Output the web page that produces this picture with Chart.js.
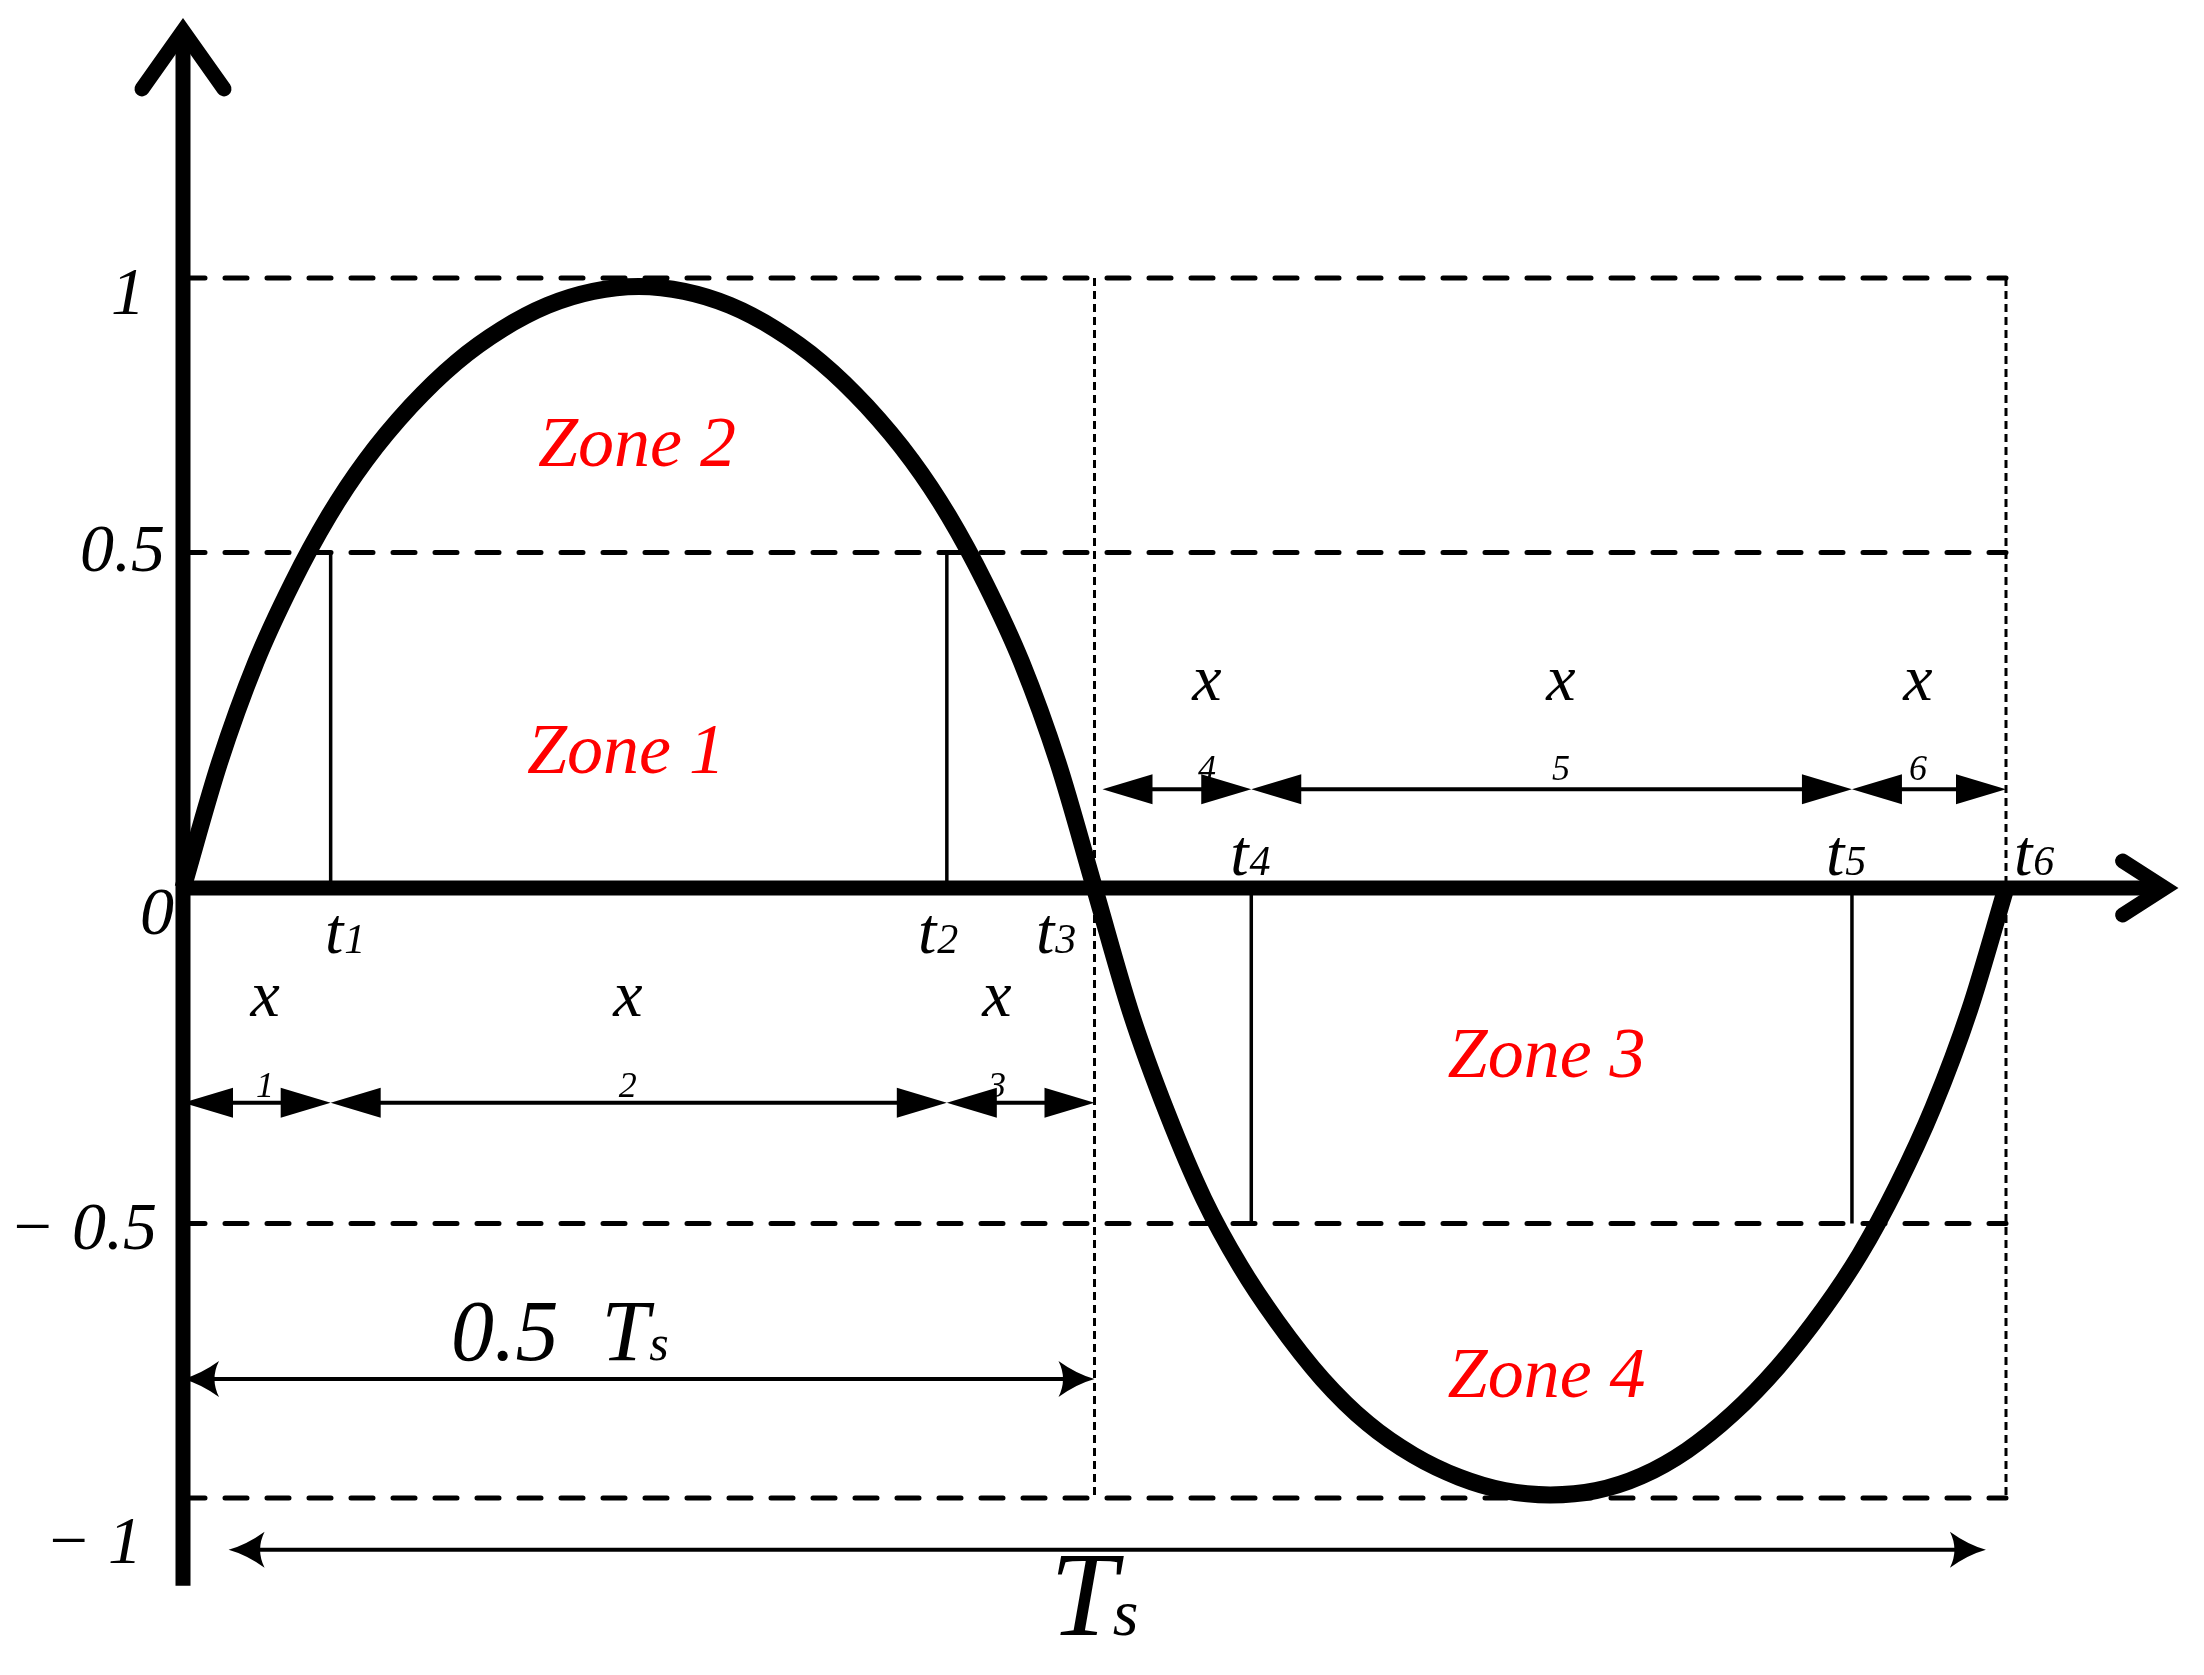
<!DOCTYPE html>
<html>
<head>
<meta charset="utf-8">
<script src="https://cdn.jsdelivr.net/npm/chart.js@4.4.1/dist/chart.umd.min.js"></script>
<style>
    html, body { margin: 0; padding: 0; background: #fff; }
    canvas { display: block; }
</style>
</head>
<body>
<canvas id="zonesChart" width="2204" height="1675"></canvas>
<script>
// x: time as a fraction of one period Ts, y: normalised amplitude
const curveT = [0, 0.02, 0.04, 0.06, 0.08, 0.10, 0.125, 0.15, 0.175, 0.20, 0.225, 0.25,
    0.275, 0.30, 0.325, 0.35, 0.375, 0.40, 0.42, 0.44, 0.46, 0.48, 0.5,
    0.52, 0.54, 0.56, 0.58, 0.60, 0.625, 0.65, 0.675, 0.70, 0.725, 0.75,
    0.775, 0.80, 0.825, 0.85, 0.875, 0.90, 0.92, 0.94, 0.96, 0.98, 1.0];
const curveV = [0, 0.205, 0.37, 0.50, 0.61, 0.70, 0.79, 0.862, 0.916, 0.955, 0.978, 0.986,
    0.978, 0.955, 0.916, 0.862, 0.79, 0.70, 0.61, 0.50, 0.37, 0.205, 0,
    -0.205, -0.37, -0.51, -0.62, -0.71, -0.805, -0.878, -0.930, -0.966, -0.988, -0.995,
    -0.988, -0.964, -0.922, -0.862, -0.785, -0.69, -0.60, -0.49, -0.36, -0.20, 0];

// switching instants t1..t6
const tMarks = [0.081, 0.419, 0.5, 0.586, 0.9155, 1];
const tNames = ['1', '2', '3', '4', '5', '6'];
const tLabelX = [0.0779, 0.4032, 0.4679, 0.5744, 0.9012, 1.0044];
const tLabelY = [-0.107, -0.107, -0.107, 0.021, 0.021, 0.021];

// dashed levels and the y tick labels
const levelValues = [1, 0.55, -0.55, -1];
const yTickValues = [1, 0.55, 0, -0.55, -1];
const yTickLabels = ['1', '0.5', '0', '\u2212 0.5', '\u2212 1'];

// zones
const zoneNames = ['Zone 1', 'Zone 2', 'Zone 3', 'Zone 4'];
const zoneX = [0.243, 0.249, 0.748, 0.748];
const zoneY = [0.188, 0.692, -0.310, -0.835];

// interval labels x1..x6
const xSubs = ['1', '2', '3', '4', '5', '6'];
const xLabelT = [0.045, 0.244, 0.4465, 0.5617, 0.7559, 0.9517];
const xRowLine = [-0.352, 0.162];
const xRowText = [-0.210, 0.308];
const xRowSub = [-0.343, 0.177];

// period arrows
const halfSpan = [0, 0.5];
const halfSpanY = -0.805;
const fullSpan = [0.025, 0.989];
const fullSpanY = -1.085;

// axis extent (data units)
const xAxisEnd = 1.087;
const yAxisTop = 1.405;
const yAxisBottom = -1.144;

const serif = '"Liberation Serif", "Times New Roman", serif';
// right edge offset from the axis and baseline offset from the level, px
const tickNudge = [[-38, 36], [-18, 18], [-9, 46], [-26, 25], [-41, 65]];

function lineSet(points, width, dash, cap) {
    return {
        data: points,
        showLine: true,
        borderColor: '#000',
        borderWidth: width,
        borderDash: dash || [],
        borderCapStyle: cap || 'butt',
        pointRadius: 0,
        clip: false,
        fill: false
    };
}

const datasets = [];
datasets.push({
    ...lineSet(curveT.map((t, i) => ({ x: t, y: curveV[i] })), 17),
    cubicInterpolationMode: 'monotone',
    borderJoinStyle: 'round'
});
levelValues.forEach(v => {
    datasets.push(lineSet([{ x: 0, y: v }, { x: 1, y: v }], 5, [22, 20], 'round'));
});
// thin drop lines at t1, t2 (upper) and t4, t5 (lower)
[[tMarks[0], 0.55], [tMarks[1], 0.55], [tMarks[3], -0.55], [tMarks[4], -0.55]].forEach(([t, v]) => {
    datasets.push(lineSet([{ x: t, y: 0 }, { x: t, y: v }], 3.5));
});
// dotted verticals at 0.5 Ts and Ts
[tMarks[2], tMarks[5]].forEach(t => {
    datasets.push(lineSet([{ x: t, y: 1 }, { x: t, y: -1 }], 3, [8, 5]));
});

function filledHead(ctx, x, y, dir) {
    ctx.beginPath();
    ctx.moveTo(x, y);
    ctx.lineTo(x - dir * 50, y - 15);
    ctx.lineTo(x - dir * 50, y + 15);
    ctx.closePath();
    ctx.fill();
}

function openHead(ctx, x, y, dir) {
    ctx.beginPath();
    ctx.moveTo(x, y);
    ctx.quadraticCurveTo(x - dir * 18, y - 5, x - dir * 36, y - 18);
    ctx.quadraticCurveTo(x - dir * 27, y, x - dir * 36, y + 18);
    ctx.quadraticCurveTo(x - dir * 18, y + 5, x, y);
    ctx.fill();
}

function shaft(ctx, x0, x1, y, w) {
    ctx.lineWidth = w;
    ctx.lineCap = 'butt';
    ctx.beginPath();
    ctx.moveTo(x0, y);
    ctx.lineTo(x1, y);
    ctx.stroke();
}

const diagramPlugin = {
    id: 'diagram',
    beforeDatasetsDraw(chart) {
        const ctx = chart.ctx;
        const px = v => chart.scales.x.getPixelForValue(v);
        const py = v => chart.scales.y.getPixelForValue(v);
        const x0 = px(0), y0 = py(0);
        ctx.save();
        ctx.strokeStyle = '#000';
        ctx.lineWidth = 15;
        ctx.lineCap = 'butt';
        // y axis
        const top = py(yAxisTop);
        ctx.beginPath();
        ctx.moveTo(x0, py(yAxisBottom));
        ctx.lineTo(x0, top);
        ctx.stroke();
        ctx.lineCap = 'round';
        ctx.lineJoin = 'miter';
        ctx.beginPath();
        ctx.moveTo(x0 - 41, top + 58);
        ctx.lineTo(x0, top);
        ctx.lineTo(x0 + 41, top + 58);
        ctx.stroke();
        // x axis
        const right = px(xAxisEnd);
        ctx.lineCap = 'butt';
        ctx.beginPath();
        ctx.moveTo(x0, y0);
        ctx.lineTo(right, y0);
        ctx.stroke();
        ctx.lineCap = 'round';
        ctx.beginPath();
        ctx.moveTo(right - 42, y0 - 27);
        ctx.lineTo(right, y0);
        ctx.lineTo(right - 42, y0 + 27);
        ctx.stroke();
        ctx.restore();
    },
    afterDatasetsDraw(chart) {
        const ctx = chart.ctx;
        const px = v => chart.scales.x.getPixelForValue(v);
        const py = v => chart.scales.y.getPixelForValue(v);
        const x0 = px(0);
        ctx.save();
        ctx.fillStyle = '#000';
        ctx.strokeStyle = '#000';
        ctx.textBaseline = 'alphabetic';

        // y tick labels
        ctx.font = 'italic 68px ' + serif;
        ctx.textAlign = 'right';
        yTickValues.forEach((v, i) => {
            ctx.fillText(yTickLabels[i], x0 + tickNudge[i][0], py(v) + tickNudge[i][1]);
        });

        // t labels
        ctx.textAlign = 'left';
        tNames.forEach((n, i) => {
            const lx = px(tLabelX[i]), ly = py(tLabelY[i]);
            ctx.font = 'italic 66px ' + serif;
            ctx.fillText('t', lx, ly);
            const w = ctx.measureText('t').width;
            ctx.font = 'italic 42px ' + serif;
            ctx.fillText(n, lx + w + 1, ly);
        });

        // zone labels
        ctx.fillStyle = '#ff0000';
        ctx.textAlign = 'center';
        ctx.font = 'italic 72px ' + serif;
        zoneNames.forEach((z, i) => ctx.fillText(z, px(zoneX[i]), py(zoneY[i])));
        ctx.fillStyle = '#000';

        // x labels with their displaced subscripts
        xSubs.forEach((s, i) => {
            const row = i < 3 ? 0 : 1;
            ctx.font = 'italic 66px ' + serif;
            ctx.fillText('x', px(xLabelT[i]), py(xRowText[row]));
            ctx.font = 'italic 36px ' + serif;
            ctx.fillText(s, px(xLabelT[i]), py(xRowSub[row]));
        });

        // interval arrows
        const lowerEdges = [0, tMarks[0], tMarks[1], tMarks[2]];
        const upperEdges = [tMarks[2], tMarks[3], tMarks[4], tMarks[5]];
        [lowerEdges, upperEdges].forEach((edges, row) => {
            const y = py(xRowLine[row]);
            for (let k = 0; k < 3; k++) {
                const a = px(edges[k]) + (row === 1 && k === 0 ? 8 : 0), b = px(edges[k + 1]);
                shaft(ctx, a + 20, b - 20, y, 4);
                filledHead(ctx, a, y, -1);
                filledHead(ctx, b, y, 1);
            }
        });

        // 0.5 Ts and Ts arrows
        [[halfSpan, halfSpanY], [fullSpan, fullSpanY]].forEach(([span, v]) => {
            const a = px(span[0]), b = px(span[1]), y = py(v);
            shaft(ctx, a + 10, b - 10, y, 4);
            openHead(ctx, a, y, -1);
            openHead(ctx, b, y, 1);
        });

        // 0.5 Ts label
        ctx.textAlign = 'left';
        let lx = px(0.147), ly = py(-0.774);
        ctx.font = 'italic 86px ' + serif;
        ctx.fillText('0.5\u2002T', lx, ly);
        let w = ctx.measureText('0.5\u2002T').width;
        ctx.font = 'italic 50px ' + serif;
        ctx.fillText('s', lx + w, ly);

        // Ts label
        lx = px(0.4756);
        ly = py(-1.2246);
        ctx.font = 'italic 120px ' + serif;
        ctx.fillText('T', lx, ly);
        w = ctx.measureText('T').width;
        ctx.font = 'italic 66px ' + serif;
        ctx.fillText('s', lx + w - 4, ly);

        ctx.restore();
    }
};

const ctx = document.getElementById('zonesChart').getContext('2d');
const zonesChart = new Chart(ctx, {
    type: 'scatter',
    data: { datasets: datasets },
    options: {
        responsive: false,
        animation: false,
        devicePixelRatio: 1,
        layout: {
            padding: { left: 183, right: 198, top: 278, bottom: 177 }
        },
        plugins: {
            legend: { display: false },
            tooltip: { enabled: false },
            title: { display: false }
        },
        scales: {
            x: { type: 'linear', min: 0, max: 1, display: false },
            y: { type: 'linear', min: -1, max: 1, display: false }
        }
    },
    plugins: [diagramPlugin]
});
</script>
</body>
</html>
